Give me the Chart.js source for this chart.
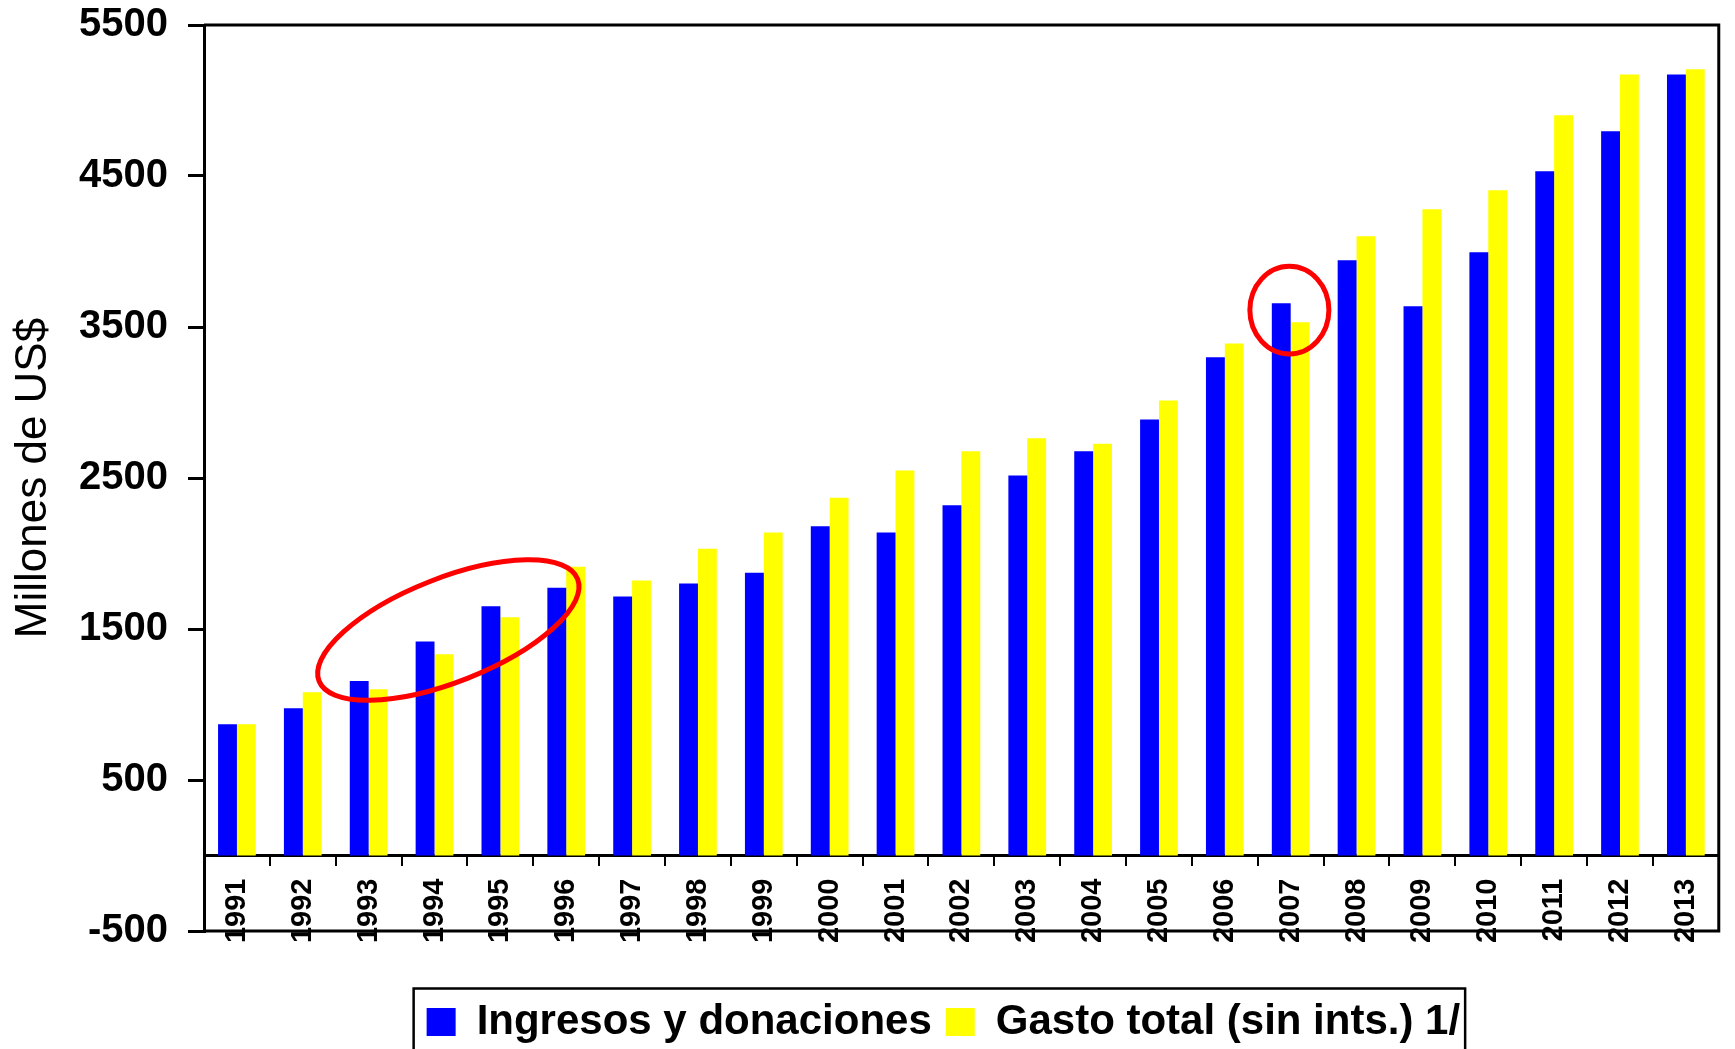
<!DOCTYPE html>
<html>
<head>
<meta charset="utf-8">
<script src="https://cdn.jsdelivr.net/npm/chart.js@4.4.1/dist/chart.umd.min.js"></script>
<style>
  html, body { margin: 0; padding: 0; background: #fff; }
  #wrap { width: 1735px; height: 1049px; }
</style>
</head>
<body>
<div id="wrap"><canvas id="fiscalChart"></canvas></div>
<script>
// Datos (millones de US$)
const years = ['1991', '1992', '1993', '1994', '1995', '1996', '1997', '1998', '1999', '2000', '2001', '2002',
               '2003', '2004', '2005', '2006', '2007', '2008', '2009', '2010', '2011', '2012', '2013'];
const ingresos = [870, 975, 1155, 1418, 1650, 1773, 1716, 1802, 1873, 2180, 2139, 2319,
                  2517, 2677, 2888, 3299, 3657, 3942, 3638, 3995, 4531, 4797, 5173];
const gasto = [870, 1081, 1101, 1332, 1577, 1912, 1822, 2032, 2139, 2370, 2550, 2677,
               2763, 2727, 3014, 3391, 3531, 4101, 4280, 4405, 4903, 5173, 5207];
const yTicks = [-500, 500, 1500, 2500, 3500, 4500, 5500];

// óvalos rojos: centro (índice de año, valor), radio x en años, radio y en millones, giro en grados
const ovalos = [
    { x: 3.21, y: 1493, rx: 2.11, ry: 344, rot: -21.5 },
    { x: 15.98, y: 3612, rx: 0.60, ry: 290, rot: 0 }
];

const fontFam = '"Liberation Sans", Arial, Helvetica, sans-serif';

const marco = {
    id: 'marco',
    afterLayout(chart) {
        // la leyenda original está algo corrida a la izquierda
        chart.legend.left -= 18;
        chart.legend.right -= 18;
    },
    afterDraw(chart) {
        const { ctx, chartArea: a, scales: { x, y } } = chart;
        ctx.save();
        ctx.strokeStyle = '#000';
        ctx.lineWidth = 3;
        ctx.beginPath();
        ctx.moveTo(a.left, a.top);
        ctx.lineTo(a.right, a.top);
        ctx.lineTo(a.right, a.bottom);
        ctx.lineTo(a.left, a.bottom);
        ctx.stroke();

        // recuadro de la leyenda
        const hb = chart.legend.legendHitBoxes;
        const last = hb[hb.length - 1];
        ctx.lineWidth = 2.5;
        ctx.strokeRect(hb[0].left - 13, chart.legend.top + 1.5,
                       last.left + last.width - hb[0].left + 18, chart.legend.height + 20);

        // óvalos
        const cw = x.getPixelForValue(1) - x.getPixelForValue(0);
        const pv = y.getPixelForValue(0) - y.getPixelForValue(1);
        ctx.strokeStyle = '#ff0000';
        ctx.lineWidth = 5;
        ovalos.forEach(o => {
            ctx.beginPath();
            ctx.ellipse(x.getPixelForValue(o.x), y.getPixelForValue(o.y), o.rx * cw, o.ry * pv,
                        o.rot * Math.PI / 180, 0, 2 * Math.PI);
            ctx.stroke();
        });
        ctx.restore();
    }
};

const ctx = document.getElementById('fiscalChart').getContext('2d');
const fiscalChart = new Chart(ctx, {
    type: 'bar',
    data: {
        labels: years,
        datasets: [{
            label: 'Ingresos y donaciones',
            data: ingresos,
            backgroundColor: '#0000ff',
            borderWidth: 0
        }, {
            label: 'Gasto total (sin ints.) 1/',
            data: gasto,
            backgroundColor: '#ffff00',
            borderWidth: 0
        }]
    },
    options: {
        responsive: true,
        maintainAspectRatio: false,
        animation: false,
        categoryPercentage: 0.573,
        barPercentage: 1.0,
        layout: { padding: { top: 25, right: 5, bottom: 0, left: 0 } },
        scales: {
            x: {
                position: { y: 0 },
                grid: { drawOnChartArea: false, color: '#000', lineWidth: 2, tickLength: 9 },
                border: { display: true, color: '#000', width: 3 },
                ticks: {
                    autoSkip: false,
                    minRotation: 90,
                    maxRotation: 90,
                    padding: 14,
                    color: '#000',
                    font: { family: fontFam, size: 29, weight: 'bold' }
                }
            },
            xPad: {
                type: 'category',
                position: 'bottom',
                labels: years,
                grid: { display: false },
                border: { display: false },
                ticks: { display: false },
                afterFit: s => { s.height = 56; }
            },
            y: {
                min: -500,
                max: 5500,
                afterBuildTicks: s => { s.ticks = yTicks.map(v => ({ value: v })); },
                afterFit: s => {
                    s.width = 204;
                    s.paddingTop = 20;
                    s.paddingBottom = 20;
                },
                grid: { drawOnChartArea: false, color: '#000', lineWidth: 3, tickLength: 16 },
                border: { display: true, color: '#000', width: 3 },
                ticks: {
                    padding: 20,
                    color: '#000',
                    callback: v => String(v),
                    font: { family: fontFam, size: 40, weight: 'bold', lineHeight: 1.2 }
                },
                title: {
                    display: true,
                    text: 'Millones de US$',
                    color: '#000',
                    padding: { top: 7, bottom: 0 },
                    font: { family: fontFam, size: 44, weight: 'normal', lineHeight: 1.2 }
                }
            }
        },
        plugins: {
            legend: {
                position: 'bottom',
                fullSize: false,
                maxHeight: 62,
                labels: {
                    color: '#000',
                    boxWidth: 29,
                    boxHeight: 28,
                    padding: 14,
                    font: { family: fontFam, size: 42, weight: 'bold' }
                }
            },
            tooltip: { enabled: false }
        }
    },
    plugins: [marco]
});
</script>
</body>
</html>
